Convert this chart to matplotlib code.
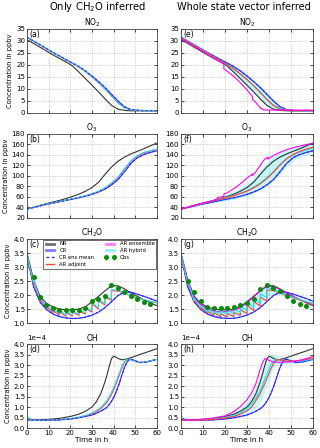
import matplotlib
matplotlib.use("Agg")
import matplotlib.pyplot as plt
from matplotlib.lines import Line2D

plt.rcParams['font.family'] = ['DejaVu Sans']

# ---- data ----
t3 = [0, 3, 6, 9, 12, 15, 18, 21, 24, 27, 30, 33, 36, 39, 42, 45, 48, 51, 54, 57, 60]

# NO2 (ppbv)
no2_nr = [30.5, 29.0, 27.4, 25.8, 24.2, 22.7, 21.3, 19.6, 17.0, 14.3, 11.6, 8.8, 5.9, 3.2, 1.6, 1.1, 0.9, 0.9, 0.9, 0.9, 0.9]
no2_cr = [31.5, 30.0, 28.4, 26.8, 25.2, 23.7, 22.2, 20.8, 19.3, 17.5, 15.4, 13.1, 10.6, 7.8, 5.0, 2.6, 1.4, 1.1, 1.0, 1.0, 1.0]
no2_hyb_l = [31.6, 30.1, 28.5, 26.9, 25.3, 23.8, 22.3, 20.8, 19.2, 17.3, 15.1, 12.7, 10.1, 7.2, 4.4, 2.2, 1.3, 1.1, 1.0, 1.0, 1.0]
no2_adj_l = [31.5, 30.0, 28.4, 26.8, 25.2, 23.7, 22.2, 20.7, 19.1, 17.2, 15.0, 12.6, 10.0, 7.1, 4.3, 2.1, 1.3, 1.1, 1.0, 1.0, 1.0]
no2_adj_r = [31.3, 29.8, 28.2, 26.6, 25.0, 23.4, 21.8, 20.2, 18.4, 16.3, 14.0, 11.4, 8.6, 5.7, 3.1, 1.6, 1.1, 1.0, 1.0, 1.0, 1.0]
no2_hyb_r = [31.5, 30.0, 28.4, 26.7, 25.0, 23.3, 21.7, 20.0, 18.2, 16.1, 13.8, 11.3, 8.6, 5.8, 3.3, 1.8, 1.2, 1.0, 1.0, 1.0, 1.0]
no2_band_lo = [30.8, 29.2, 27.6, 25.9, 24.2, 22.5, 20.8, 18.9, 16.6, 14.0, 11.2, 8.3, 5.4, 2.8, 1.4, 1.0, 0.9, 0.9, 0.9, 0.9, 0.9]
no2_band_hi = [32.2, 30.8, 29.2, 27.6, 26.0, 24.5, 23.0, 21.5, 20.0, 18.2, 16.3, 14.0, 11.5, 8.7, 5.8, 3.2, 1.7, 1.2, 1.1, 1.1, 1.1]
t_ens_no2 = [0, 3, 6, 9, 12, 15, 18, 19.5, 19.5, 21, 24, 27, 30, 32.5, 32.5, 34, 36, 37.5, 42, 48, 54, 60]
no2_ens = [31.0, 29.4, 27.8, 26.1, 24.4, 22.7, 21.2, 20.5, 18.3, 17.4, 15.2, 12.6, 9.6, 6.8, 5.6, 4.4, 2.2, 1.3, 1.2, 1.2, 1.2, 1.2]

# O3 (ppbv)
o3_nr = [37, 40.5, 44, 47.5, 50.5, 53.5, 57, 61, 65.5, 71, 78, 88, 103, 117, 128, 136, 142, 147, 152, 157.5, 163]
o3_cr = [37, 40, 43, 46, 48.5, 51, 53.5, 56, 58.5, 61.5, 65, 69.5, 75, 83, 93, 108, 124, 135, 141, 145, 148]
o3_hyb_l = [37, 40.5, 43.5, 46.5, 49, 51.5, 54, 56.5, 59.5, 62.5, 66.5, 71, 77.5, 86.5, 98, 114, 129, 139, 145, 148.5, 151]
o3_adj_l = [37, 40.3, 43.3, 46.3, 48.8, 51.3, 53.8, 56.3, 59.2, 62.2, 66, 70.5, 76.8, 85.5, 97, 113, 128, 138, 144, 147.8, 150.5]
o3_adj_r = [37, 40.5, 44, 47, 50, 53, 56, 59, 62.5, 66.5, 71, 77, 85, 95, 107, 121, 133, 141, 147, 151.5, 155]
o3_hyb_r = [37, 40.5, 44, 47.2, 50.3, 53.4, 56.5, 59.7, 63.2, 67.3, 72, 78.5, 86.5, 96.5, 108, 121.5, 132.5, 140, 145.5, 149.5, 153]
o3_band_lo = [36, 39, 42, 44.5, 47, 49, 51, 53, 55.5, 58.5, 62, 67, 73, 81, 91, 104, 118, 129, 136, 140, 143]
o3_band_hi = [38, 42, 46, 50, 53, 57, 61, 66, 71, 77, 85, 96, 111, 126, 138, 146, 151, 155, 158.5, 161.5, 165]
t_ens_o3 = [0, 3, 6, 9, 12, 15, 16.5, 16.5, 19.5, 19.5, 21, 24, 27, 30, 32.5, 32.5, 34, 36, 38, 39.5, 39.5, 42, 45, 48, 51, 54, 57, 60]
o3_ens = [37, 40.5, 44, 47.5, 50.5, 54, 56, 59, 61, 66, 68, 76, 85, 96, 104, 101, 108, 120, 132, 136, 132, 139, 145, 150, 154, 157, 160, 162]

# CH2O (ppbv)
ch2o_nr = [3.5, 2.55, 1.95, 1.7, 1.57, 1.5, 1.47, 1.47, 1.5, 1.58, 1.76, 1.95, 2.15, 2.33, 2.33, 2.22, 2.07, 1.95, 1.83, 1.72, 1.62]
ch2o_cr = [3.42, 2.3, 1.75, 1.48, 1.32, 1.23, 1.18, 1.16, 1.17, 1.21, 1.28, 1.39, 1.55, 1.76, 1.98, 2.1, 2.1, 2.03, 1.95, 1.87, 1.78]
t_saw = [0, 3, 3, 6, 6, 9, 9, 12, 12, 15, 15, 18, 18, 21, 21, 24, 24, 27, 27, 30, 30, 33, 33, 36, 36, 39, 39,
         42, 45, 48, 51, 54, 57, 60]
ch2o_hyb_l = [3.45, 2.45, 2.6, 1.82, 1.9, 1.58, 1.63, 1.42, 1.5, 1.33, 1.46, 1.28, 1.44, 1.28, 1.45, 1.31, 1.48,
              1.36, 1.58, 1.43, 1.74, 1.54, 1.86, 1.68, 1.98, 1.85, 2.2, 2.16, 2.08, 1.98, 1.9, 1.83, 1.77, 1.72]
ch2o_adj_l = [3.45, 2.4, 2.5, 1.78, 1.85, 1.52, 1.58, 1.37, 1.44, 1.28, 1.4, 1.24, 1.38, 1.24, 1.39, 1.27, 1.42,
              1.32, 1.52, 1.39, 1.68, 1.5, 1.8, 1.64, 1.93, 1.81, 2.15, 2.14, 2.07, 1.98, 1.9, 1.83, 1.77, 1.72]
ch2o_adj_r = [3.45, 2.4, 2.5, 1.75, 1.82, 1.5, 1.56, 1.35, 1.42, 1.26, 1.38, 1.22, 1.34, 1.21, 1.35, 1.23, 1.38,
              1.27, 1.48, 1.33, 1.64, 1.45, 1.78, 1.6, 1.93, 1.78, 2.18, 2.16, 2.08, 1.98, 1.9, 1.82, 1.74, 1.67]
ch2o_hyb_r = [3.45, 2.45, 2.55, 1.8, 1.88, 1.55, 1.62, 1.4, 1.5, 1.32, 1.45, 1.3, 1.45, 1.3, 1.46, 1.33, 1.5,
              1.37, 1.58, 1.45, 1.75, 1.56, 1.88, 1.7, 2.05, 1.9, 2.28, 2.2, 2.1, 2.0, 1.92, 1.84, 1.77, 1.7]
ch2o_ens = [3.48, 2.5, 1.9, 1.65, 1.5, 1.42, 1.4, 1.41, 1.45, 1.55, 1.72, 1.93, 2.15, 2.3, 2.3, 2.2, 2.06, 1.95, 1.84, 1.74, 1.65]
ch2o_band_lo = [3.35, 2.3, 1.72, 1.45, 1.3, 1.22, 1.2, 1.2, 1.24, 1.3, 1.42, 1.56, 1.72, 1.9, 2.05, 2.0, 1.95, 1.88, 1.8, 1.73, 1.65]
ch2o_band_hi = [3.55, 2.62, 1.98, 1.72, 1.58, 1.52, 1.5, 1.5, 1.55, 1.65, 1.85, 2.02, 2.2, 2.36, 2.32, 2.22, 2.1, 2.0, 1.9, 1.82, 1.76]
t_obs = [3, 6, 9, 12, 15, 18, 21, 24, 27, 30, 33, 36, 39, 42, 45, 48, 51, 54, 57]
obs_c = [2.64, 1.93, 1.66, 1.53, 1.47, 1.45, 1.45, 1.47, 1.55, 1.79, 1.85, 1.98, 2.37, 2.24, 2.11, 1.95, 1.85, 1.75, 1.68]
obs_g = [2.5, 2.11, 1.79, 1.58, 1.55, 1.52, 1.55, 1.58, 1.64, 1.73, 1.87, 2.2, 2.34, 2.26, 2.14, 1.97, 1.79, 1.67, 1.61]
obs_err = 0.07

# OH (1e-4 ppbv)
t_oh = [0, 1, 3, 6, 10, 15, 20, 24, 27, 30, 32, 34, 36, 37, 38, 39, 40, 41, 42, 43, 44, 45, 46, 47, 48, 50, 52, 55, 60]
oh_nr = [0.4, 0.4, 0.39, 0.39, 0.41, 0.46, 0.55, 0.66, 0.8, 1.0, 1.25, 1.62, 2.2, 2.55, 2.95, 3.3, 3.42, 3.38,
         3.32, 3.27, 3.25, 3.26, 3.29, 3.32, 3.35, 3.42, 3.5, 3.6, 3.78]
oh_cr = [0.4, 0.38, 0.37, 0.36, 0.37, 0.39, 0.43, 0.49, 0.55, 0.62, 0.7, 0.8, 0.92, 1.0, 1.12, 1.27, 1.45, 1.68,
         1.95, 2.25, 2.58, 2.88, 3.1, 3.25, 3.28, 3.2, 3.12, 3.14, 3.27]
oh_hyb_l = [0.65, 0.4, 0.37, 0.36, 0.37, 0.4, 0.45, 0.52, 0.6, 0.72, 0.83, 0.98, 1.2, 1.33, 1.5, 1.7, 1.92, 2.18,
            2.45, 2.72, 2.98, 3.17, 3.27, 3.27, 3.24, 3.17, 3.12, 3.14, 3.27]
oh_adj_l = [0.4, 0.38, 0.37, 0.36, 0.37, 0.39, 0.44, 0.51, 0.58, 0.68, 0.78, 0.92, 1.13, 1.25, 1.4, 1.6, 1.82, 2.07,
            2.35, 2.63, 2.9, 3.12, 3.25, 3.27, 3.25, 3.18, 3.12, 3.14, 3.27]
oh_ens = [0.4, 0.4, 0.39, 0.39, 0.42, 0.48, 0.58, 0.78, 1.02, 1.35, 1.65, 2.1, 2.8, 3.1, 3.3, 3.28, 3.22, 3.18,
          3.15, 3.14, 3.13, 3.13, 3.13, 3.14, 3.14, 3.15, 3.18, 3.25, 3.4]
oh_adj_r = [0.4, 0.39, 0.38, 0.37, 0.38, 0.41, 0.47, 0.55, 0.66, 0.82, 0.98, 1.3, 1.65, 1.88, 2.1, 2.35, 2.6, 2.85,
            3.05, 3.2, 3.26, 3.25, 3.22, 3.2, 3.19, 3.19, 3.2, 3.23, 3.32]
oh_hyb_r = [0.65, 0.4, 0.38, 0.37, 0.39, 0.43, 0.5, 0.6, 0.72, 0.92, 1.1, 1.42, 1.8, 2.05, 2.3, 2.55, 2.8, 3.02,
            3.18, 3.25, 3.25, 3.23, 3.2, 3.18, 3.17, 3.17, 3.18, 3.2, 3.28]
oh_band_lo = [0.35, 0.35, 0.35, 0.34, 0.35, 0.38, 0.42, 0.48, 0.56, 0.68, 0.8, 0.98, 1.25, 1.45, 1.7, 1.98, 2.3,
              2.6, 2.85, 3.0, 3.05, 3.05, 3.05, 3.05, 3.06, 3.08, 3.1, 3.13, 3.2]
oh_band_hi = [0.7, 0.45, 0.41, 0.4, 0.43, 0.5, 0.6, 0.75, 0.95, 1.25, 1.55, 2.0, 2.55, 2.85, 3.1, 3.3, 3.45, 3.5,
              3.5, 3.48, 3.45, 3.4, 3.36, 3.33, 3.3, 3.28, 3.28, 3.3, 3.36]

species = ["NO$_2$", "O$_3$", "CH$_2$O", "OH"]
letters = ["(a)", "(b)", "(c)", "(d)", "(e)", "(f)", "(g)", "(h)"]

c_nr = "#333333"
c_cr = "#2a2aff"
c_adj = "#ff3b3b"
c_ens = "#ff00ff"
c_hyb = "#22e0f0"
c_band = "#c4f8f8"
c_obs = "#0a8a0a"
lw = 0.8

fig = plt.figure(figsize=(3.2, 4.48), dpi=100)
lefts = [0.0844, 0.5656]
widths = [0.406, 0.4125]
bottoms = [0.7478, 0.5134, 0.279, 0.0446]
h = 0.1875

ylims = [(0, 35), (20, 180), (1.0, 4.0), (0, 4e-4)]
ysteps = [5, 20, 0.5, 0.5e-4]

axes = {}
for col in range(2):
    for row in range(4):
        ax = fig.add_axes([lefts[col], bottoms[row], widths[col], h])
        axes[(row, col)] = ax
        ax.set_xlim(0, 60)
        lo, hi = ylims[row]
        ax.set_ylim(lo, hi)
        n = int(round((hi - lo) / ysteps[row]))
        ax.set_yticks([lo + i * ysteps[row] for i in range(n + 1)])
        ax.set_xticks([0, 10, 20, 30, 40, 50, 60])
        ax.grid(True, linestyle=':', color='#aaaaaa', linewidth=0.5)
        ax.tick_params(direction='in', length=2, width=0.5, labelsize=5, pad=1.5,
                       top=True, right=True)
        for sp in ax.spines.values():
            sp.set_linewidth(0.6)
            sp.set_color('#444444')
        ax.set_title(species[row], fontsize=5.5, pad=2)
        ax.text(0.02, 0.99, letters[col * 4 + row], transform=ax.transAxes,
                fontsize=5.5, va='top', ha='left')
        if row < 3:
            ax.set_xticklabels([])
        else:
            ax.set_xlabel("Time in h", fontsize=5.2, labelpad=1)
        if col == 0:
            ax.set_ylabel("Concentration in ppbv", fontsize=4.8, labelpad=2)
        if row == 3:
            ax.ticklabel_format(style='sci', scilimits=(0, 0), axis='y')
            ax.yaxis.get_offset_text().set_fontsize(5)

sc = 1e-4

# ---- left column: only CH2O inferred ----
ax = axes[(0, 0)]
ax.plot(t3, no2_nr, color=c_nr, lw=lw)
ax.plot(t3, no2_cr, color=c_cr, lw=lw)
ax.plot(t3, no2_adj_l, color=c_adj, lw=lw)
ax.plot(t3, no2_hyb_l, color=c_hyb, lw=lw)
ax.plot(t3, no2_cr, color=c_cr, lw=lw, ls=(0, (2, 2)))

ax = axes[(1, 0)]
ax.plot(t3, o3_nr, color=c_nr, lw=lw)
ax.plot(t3, o3_cr, color=c_cr, lw=lw)
ax.plot(t3, o3_adj_l, color=c_adj, lw=lw)
ax.plot(t3, o3_hyb_l, color=c_hyb, lw=lw)
ax.plot(t3, o3_cr, color=c_cr, lw=lw, ls=(0, (2, 2)))

ax = axes[(2, 0)]
ax.plot(t3, ch2o_nr, color=c_nr, lw=lw)
ax.plot(t3, ch2o_cr, color=c_cr, lw=lw)
ax.plot(t3, ch2o_cr, color=c_cr, lw=lw, ls=(0, (2, 2)))
ax.plot(t_saw, ch2o_adj_l, color=c_adj, lw=lw)
ax.plot(t_saw, ch2o_hyb_l, color=c_hyb, lw=lw)
obs_c_art = ax.errorbar(t_obs, obs_c, yerr=obs_err, fmt='o', color=c_obs, ms=2.6,
                        elinewidth=0.6, capsize=0, zorder=5)

ax = axes[(3, 0)]
ax.plot(t_oh, [v * sc for v in oh_nr], color=c_nr, lw=lw)
ax.plot(t_oh, [v * sc for v in oh_cr], color=c_cr, lw=lw)
ax.plot(t_oh, [v * sc for v in oh_adj_l], color=c_adj, lw=lw)
ax.plot(t_oh, [v * sc for v in oh_hyb_l], color=c_hyb, lw=lw)
ax.plot(t_oh, [v * sc for v in oh_cr], color=c_cr, lw=lw, ls=(0, (2, 2)))

# legend in panel (c)
hdl = [Line2D([], [], color=c_nr, lw=2, alpha=0.7),
       Line2D([], [], color=c_cr, lw=2, alpha=0.6),
       Line2D([], [], color=c_cr, lw=1, ls=(0, (2, 2))),
       Line2D([], [], color=c_adj, lw=1),
       Line2D([], [], color=c_ens, lw=2, alpha=0.5),
       Line2D([], [], color=c_hyb, lw=2, alpha=0.5),
       obs_c_art]
lab = ["NR", "CR", "CR ens mean", "AR adjoint", "AR ensemble", "AR hybrid", "Obs"]
leg = axes[(2, 0)].legend(hdl, lab, ncol=2, loc='upper right', fontsize=3.8, numpoints=2,
                          handlelength=2.1, borderpad=0.35, labelspacing=0.35,
                          columnspacing=2.0, handletextpad=0.7, fancybox=False,
                          framealpha=1, borderaxespad=0.1)
leg.get_frame().set_edgecolor('#333333')
leg.get_frame().set_linewidth(0.5)

# ---- right column: whole state vector inferred ----
ax = axes[(0, 1)]
ax.fill_between(t3, no2_band_lo, no2_band_hi, color=c_band, lw=0)
ax.plot(t3, no2_nr, color=c_nr, lw=lw)
ax.plot(t3, no2_cr, color=c_cr, lw=lw)
ax.plot(t3, no2_cr, color=c_cr, lw=lw, ls=(0, (2, 2)))
ax.plot(t3, no2_hyb_r, color=c_hyb, lw=lw)
ax.plot(t3, no2_adj_r, color=c_adj, lw=lw)
ax.plot(t_ens_no2, no2_ens, color=c_ens, lw=lw)

ax = axes[(1, 1)]
ax.fill_between(t3, o3_band_lo, o3_band_hi, color=c_band, lw=0)
ax.plot(t3, o3_nr, color=c_nr, lw=lw)
ax.plot(t3, o3_cr, color=c_cr, lw=lw)
ax.plot(t3, o3_cr, color=c_cr, lw=lw, ls=(0, (2, 2)))
ax.plot(t3, o3_hyb_r, color=c_hyb, lw=lw)
ax.plot(t3, o3_adj_r, color=c_adj, lw=lw)
ax.plot(t_ens_o3, o3_ens, color=c_ens, lw=lw)

ax = axes[(2, 1)]
ax.fill_between(t3, ch2o_band_lo, ch2o_band_hi, color=c_band, lw=0)
ax.plot(t3, ch2o_nr, color=c_nr, lw=lw)
ax.plot(t3, ch2o_cr, color=c_cr, lw=lw)
ax.plot(t3, ch2o_cr, color=c_cr, lw=lw, ls=(0, (2, 2)))
ax.plot(t3, ch2o_ens, color=c_ens, lw=lw)
ax.plot(t_saw, ch2o_adj_r, color=c_adj, lw=lw)
ax.plot(t_saw, ch2o_hyb_r, color=c_hyb, lw=lw)
ax.errorbar(t_obs, obs_g, yerr=obs_err, fmt='o', color=c_obs, ms=2.6,
            elinewidth=0.6, capsize=0, zorder=5)

ax = axes[(3, 1)]
ax.fill_between(t_oh, [v * sc for v in oh_band_lo], [v * sc for v in oh_band_hi], color=c_band, lw=0)
ax.plot(t_oh, [v * sc for v in oh_nr], color=c_nr, lw=lw)
ax.plot(t_oh, [v * sc for v in oh_cr], color=c_cr, lw=lw)
ax.plot(t_oh, [v * sc for v in oh_cr], color=c_cr, lw=lw, ls=(0, (2, 2)))
ax.plot(t_oh, [v * sc for v in oh_hyb_r], color=c_hyb, lw=lw)
ax.plot(t_oh, [v * sc for v in oh_adj_r], color=c_adj, lw=lw)
ax.plot(t_oh, [v * sc for v in oh_ens], color=c_ens, lw=lw)

fig.text(0.305, 0.984, "Only CH$_2$O inferred", fontsize=7.2, ha='center', va='center')
fig.text(0.761, 0.984, "Whole state vector inferred", fontsize=7.0, ha='center', va='center')

fig.savefig("out.png", dpi=100)
